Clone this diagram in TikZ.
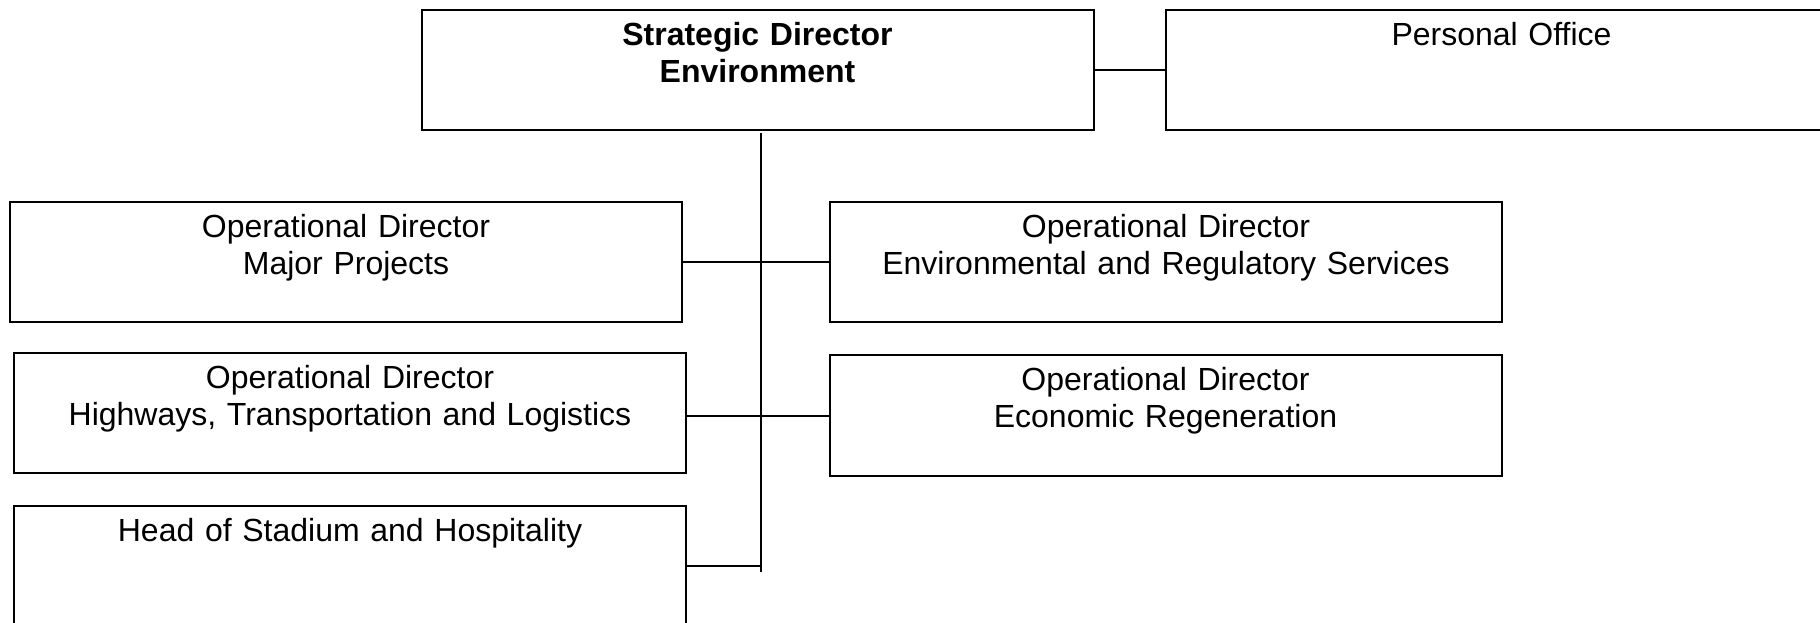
\documentclass[tikz,border=0pt]{standalone}
\usepackage{fontspec}
\setmainfont{Liberation Sans}
\usepackage{tikz}

\tikzset{
  post/.style={draw, rectangle, line width=1.5pt, minimum width=504pt, minimum height=90pt, inner sep=0pt},
  posttext/.style={anchor=north, text width=500pt, align=center, inner sep=0pt, font=\fontsize{24}{27.75}\selectfont, execute at begin node=\rule{0pt}{27pt}},
  link/.style={line width=1.5pt}
}

\begin{document}
\begin{tikzpicture}[x=0.75pt,y=0.75pt,yscale=-1,xscale=1]
\useasboundingbox (0,0) rectangle (1820,623);

%Shape: Rectangle [strategic director]
\node[post, label={[posttext]90:{\bfseries Strategic Director\\Environment}}] (strat) at (757.5,70) {};
%Shape: Rectangle [personal office]
\node[post, label={[posttext]90:{Personal Office}}] (office) at (1501.5,70) {};
%Shape: Rectangle [major projects]
\node[post, label={[posttext]90:{Operational Director\\Major Projects}}] (major) at (346,262) {};
%Shape: Rectangle [environmental and regulatory]
\node[post, label={[posttext]90:{Operational Director\\Environmental and Regulatory Services}}] (regul) at (1166,262) {};
%Shape: Rectangle [highways]
\node[post, label={[posttext]90:{Operational Director\\Highways, Transportation and Logistics}}] (highw) at (350,413) {};
%Shape: Rectangle [economic regeneration]
\node[post, label={[posttext]90:{Operational Director\\Economic Regeneration}}] (econ) at (1165.5,415.5) {};
%Shape: Rectangle [stadium]
\node[post, label={[posttext]90:{Head of Stadium and Hospitality}}] (stadium) at (350,566) {};

%Straight Lines [trunk]
\coordinate (trunktop) at (761,133);
\coordinate (trunkend) at (761,572);
\draw[link] (trunktop) -- (trunkend);
%Straight Lines
\draw[link] (strat.east) -- (office.west);
%Straight Lines
\draw[link] (major.east) -- (regul.west);
%Straight Lines
\draw[link] (econ.west -| highw.east) -- (econ.west);
%Straight Lines
\draw[link] (stadium.east) -- (stadium.east -| trunkend);

\end{tikzpicture}
\end{document}
